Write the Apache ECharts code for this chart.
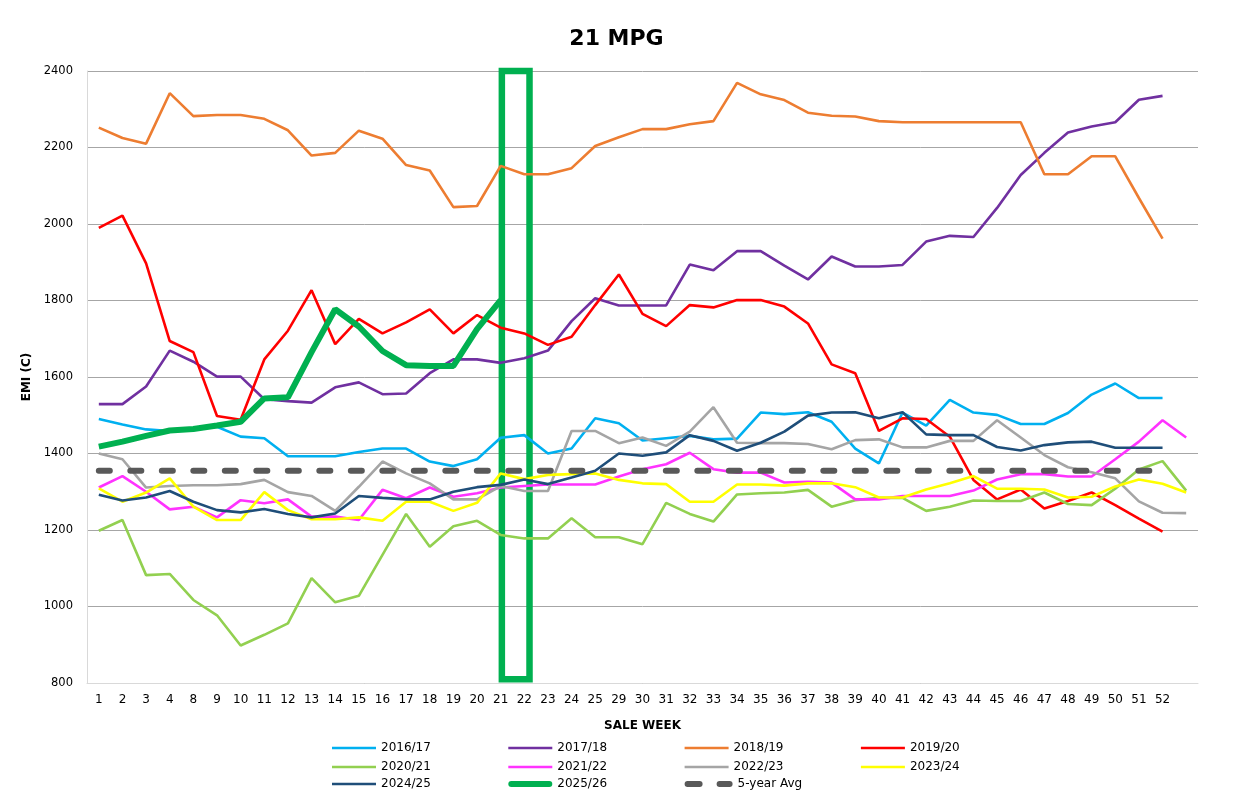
<!DOCTYPE html>
<html>
<head>
<meta charset="utf-8">
<script src="https://cdn.jsdelivr.net/npm/echarts@6/dist/echarts.min.js"></script>
<style>html,body{margin:0;padding:0;background:#fff;}#c{width:1233px;height:810px;}</style>
</head>
<body>
<div id="c"></div>
<script>
var weeks = ['1','2','3','4','8','9','10','11','12','13','14','15','16','17','18','19','20','21','22','23','24','25','29','30','31','32','33','34','35','36','37','38','39','40','41','42','43','44','45','46','47','48','49','50','51','52',''];

var s1617 = [1490,1476,1463,1459,1465,1470,1444,1440,1393,1393,1393,1404,1413,1413,1379,1367,1385,1441,1448,1400,1413,1492,1479,1434,1440,1446,1437,1439,1507,1503,1508,1483,1413,1374,1507,1473,1540,1507,1501,1477,1477,1506,1554,1583,1545,1545,null];
var s1718 = [1529,1529,1575,1669,1640,1601,1601,1542,1537,1533,1573,1586,1555,1557,1610,1646,1646,1637,1649,1669,1746,1806,1787,1787,1787,1894,1879,1929,1929,1891,1855,1915,1889,1889,1893,1954,1969,1966,2042,2128,2186,2239,2255,2266,2325,2335,null];
var s1819 = [2252,2225,2210,2342,2282,2285,2285,2275,2245,2179,2186,2244,2223,2154,2140,2044,2047,2152,2130,2130,2146,2204,2227,2248,2248,2261,2269,2369,2339,2324,2291,2283,2281,2269,2266,2266,2266,2266,2266,2266,2130,2130,2177,2177,2068,1962,null];
var s1920 = [1990,2022,1897,1694,1665,1498,1488,1646,1721,1827,1686,1752,1714,1743,1777,1714,1762,1729,1714,1684,1705,1788,1868,1765,1733,1788,1782,1801,1801,1784,1740,1633,1610,1459,1492,1490,1444,1331,1280,1306,1256,1276,1298,1265,1230,1196,null];
var s2021 = [1198,1226,1082,1085,1017,977,898,926,956,1074,1011,1028,1135,1242,1156,1210,1224,1187,1178,1178,1231,1181,1181,1163,1271,1242,1222,1293,1296,1298,1305,1261,1278,1284,1284,1250,1261,1277,1276,1276,1298,1268,1265,1308,1358,1380,1303];
var s2122 = [1311,1341,1300,1254,1261,1233,1278,1270,1280,1235,1235,1226,1305,1283,1311,1287,1296,1311,1315,1319,1319,1319,1340,1359,1372,1402,1359,1350,1350,1324,1326,1324,1280,1280,1289,1289,1289,1303,1332,1346,1346,1340,1340,1385,1431,1487,1442];
var s2223 = [1400,1385,1311,1315,1317,1317,1320,1331,1299,1289,1250,1313,1379,1348,1322,1280,1280,1315,1302,1302,1459,1459,1427,1442,1420,1457,1521,1428,1427,1427,1425,1411,1435,1437,1416,1416,1433,1433,1487,1442,1396,1364,1351,1335,1275,1245,1244];
var s2324 = [1309,1274,1298,1335,1261,1226,1226,1299,1252,1228,1228,1233,1224,1274,1274,1250,1271,1348,1333,1344,1346,1348,1331,1322,1320,1274,1274,1319,1319,1316,1322,1322,1312,1285,1285,1306,1322,1341,1308,1308,1306,1285,1287,1314,1332,1321,1298];
var s2425 = [1292,1277,1285,1302,1274,1252,1246,1255,1242,1233,1243,1289,1284,1280,1280,1300,1312,1318,1332,1320,1337,1355,1400,1394,1403,1448,1433,1407,1428,1457,1499,1507,1508,1492,1508,1450,1448,1448,1417,1408,1422,1429,1431,1415,1415,1415,null];
var s2526 = [1418,1431,1446,1460,1464,1473,1483,1544,1547,1665,1777,1732,1668,1631,1629,1629,1725,1801];
var avg5 = [1355,1355,1355,1355,1355,1355,1355,1355,1355,1355,1355,1355,1355,1355,1355,1355,1355,1355,1355,1355,1355,1355,1355,1355,1355,1355,1355,1355,1355,1355,1355,1355,1355,1355,1355,1355,1355,1355,1355,1355,1355,1355,1355,1355,1355,1355,null];
var yTicks = [800,1000,1200,1400,1600,1800,2000,2200,2400];
// highlight box around sale weeks 21-22 (category index space) and EMI range
var boxX = [17.05, 18.22];
var boxY = [2400, 810];

var names = ['2016/17','2017/18','2018/19','2019/20','2020/21','2021/22','2022/23','2023/24','2024/25','2025/26','5-year Avg'];
var datas = [s1617,s1718,s1819,s1920,s2021,s2122,s2223,s2324,s2425,s2526,avg5];
var colors = ['#00B0F0','#7030A0','#ED7D31','#FF0000','#92D050','#FF33FF','#A5A5A5','#FFFF00','#1F4E79','#00B050','#595959'];

var FONT = 'DejaVu Sans';
var series = names.map(function(n,i){
  var s = {
    name: n, type: 'line', data: datas[i], symbol: 'none', smooth: false,
    connectNulls: false, animation: false,
    lineStyle: {color: colors[i], width: 2.6},
    itemStyle: {color: colors[i]},
    z: 2 + i
  };
  if (n === '2025/26') { s.lineStyle.width = 6; s.z = 20; }
  if (n === '5-year Avg') {
    s.lineStyle = {color: colors[i], width: 6, type: [11, 20.5], cap: 'round'};
    s.z = 15;
  }
  return s;
});
series.push({
  name: 'box', type: 'line', data: [], symbol: 'none', z: 30, silent: true,
  xAxisIndex: 1,
  markArea: {
    silent: true,
    itemStyle: {color: 'rgba(0,0,0,0)', borderColor: '#00B050', borderWidth: 6.5},
    data: [[{coord: [boxX[0], boxY[0]]}, {coord: [boxX[1], boxY[1]]}]]
  }
});

var ICON_LINE = 'path://M0,0H44V2.6H0Z';
var ICON_THICK = 'path://M3,0H41A3,3 0 0 1 41,6H3A3,3 0 0 1 3,0Z';
var ICON_DASH = 'path://M3,0H15A3,3 0 0 1 15,6H3A3,3 0 0 1 3,0Z M35,0H45A3,3 0 0 1 45,6H35A3,3 0 0 1 35,0Z';
var rowsTop = [742, 761, 778];
var legends = names.map(function(n, i){
  var icon = ICON_LINE;
  if (n === '2025/26') icon = ICON_THICK;
  if (n === '5-year Avg') icon = ICON_DASH;
  return {
    data: [{name: n, icon: icon}], top: rowsTop[Math.floor(i/4)], left: 332 + (i%4)*176.3,
    padding: 0, itemWidth: n === '5-year Avg' ? 48 : 44, itemHeight: 14, itemGap: 0,
    symbolKeepAspect: true,
    textStyle: {fontFamily: FONT, fontSize: 12, color: '#000'}
  };
});

var chart = echarts.init(document.getElementById('c'), null, {renderer: 'canvas'});
chart.setOption({
  animation: false,
  backgroundColor: '#fff',
  title: {text: '21 MPG', left: 'center', top: 23, textStyle: {fontFamily: FONT, fontSize: 22, fontWeight: 'bold', color: '#000'}},
  legend: legends,
  grid: {left: 87, right: 35, top: 71, bottom: 127, containLabel: false},
  xAxis: [{
    type: 'category', data: weeks, boundaryGap: true,
    name: 'SALE WEEK', nameLocation: 'middle', nameGap: 37,
    nameTextStyle: {fontFamily: FONT, fontSize: 12, fontWeight: 'bold', color: '#000'},
    axisLine: {onZero: false, lineStyle: {color: '#D9D9D9', width: 1}},
    axisTick: {show: false},
    axisLabel: {fontFamily: FONT, fontSize: 12, color: '#000', margin: 11, interval: 0},
    splitLine: {show: false}
  }, {
    type: 'value', min: -0.5, max: weeks.length - 0.5, show: false,
    axisLine: {onZero: false}, splitLine: {show: false}
  }],
  yAxis: {
    type: 'value', min: yTicks[0], max: yTicks[yTicks.length-1], interval: 200,
    name: 'EMI (C)', nameLocation: 'middle', nameGap: 40, nameRotate: 90,
    nameTextStyle: {fontFamily: FONT, fontSize: 12, fontWeight: 'bold', color: '#000'},
    axisLine: {show: true, onZero: false, lineStyle: {color: '#D9D9D9', width: 1}},
    axisTick: {show: false},
    axisLabel: {fontFamily: FONT, fontSize: 11.5, color: '#000', margin: 14, formatter: function(v){ return String(v); }},
    splitLine: {lineStyle: {color: '#A6A6A6', width: 1}}
  },
  series: series
});
</script>
</body>
</html>
